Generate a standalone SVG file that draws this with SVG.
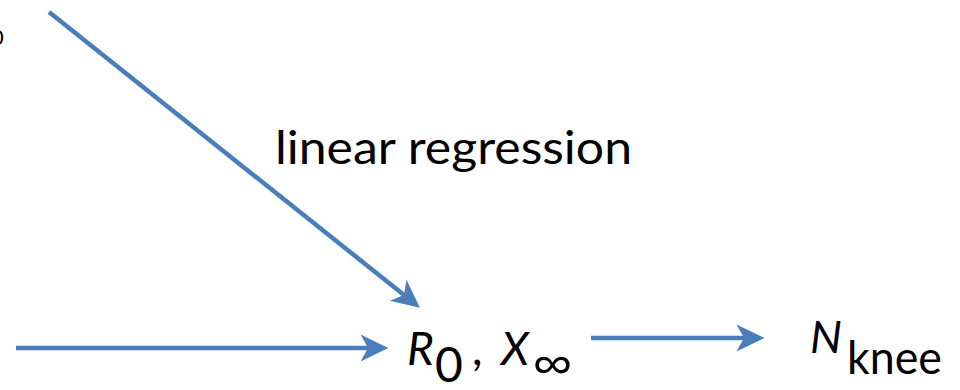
<svg xmlns="http://www.w3.org/2000/svg" width="960" height="390" viewBox="0 0 960 390">
<style>
.t{font-family:Lato,"Open Sans","Liberation Sans",sans-serif;fill:#000;}
.m{font-family:"Open Sans","DejaVu Sans",sans-serif;fill:#000;}
.c{stroke:#4A7EBB;stroke-width:4.5;fill:none;marker-end:url(#ah);}
</style>
<defs>
<marker id="ah" markerUnits="userSpaceOnUse" markerWidth="30" markerHeight="30" viewBox="0 -14 27 28" refX="7" refY="0" orient="auto">
<path d="M0,-12.5 L26,0 L0,12.5 L7,0 z" fill="#4A7EBB"/>
</marker>
</defs>
<rect width="960" height="390" fill="#fff"/>
<g id="connectors">
<line class="c" x1="49" y1="12" x2="404" y2="295"/>
<line class="c" x1="16" y1="348" x2="368" y2="348"/>
<line class="c" x1="591" y1="338" x2="744" y2="338"/>
</g>
<g id="fragment">
<text class="t" x="-9" y="45" font-size="22">0</text>
</g>
<g id="label-linear-regression">
<text class="t" x="275" y="164" font-size="46" textLength="357" lengthAdjust="spacingAndGlyphs">linear regression</text>
</g>
<g id="node-r0-xinf">
<text class="t" x="407" y="365" font-size="46" font-style="italic">R</text>
<text class="t" x="435" y="382" font-size="48">0</text>
<text class="t" x="472" y="365" font-size="46">,</text>
<text class="t" x="501" y="365" font-size="46" font-style="italic">X</text>
<text class="m" x="532" y="384" font-size="54" textLength="41" lengthAdjust="spacingAndGlyphs">∞</text>
</g>
<g id="node-nknee">
<text class="t" x="810" y="353" font-size="45" font-style="italic">N</text>
<text class="t" x="847" y="374" font-size="46" textLength="95" lengthAdjust="spacingAndGlyphs">knee</text>
</g>
</svg>
